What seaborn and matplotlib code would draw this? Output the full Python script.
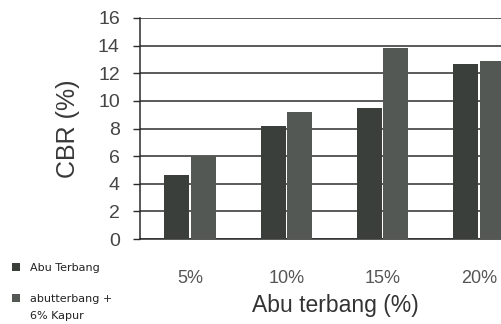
import matplotlib
matplotlib.use("Agg")
import matplotlib.pyplot as plt
import seaborn as sns
import pandas as pd

# CBR values for each fly-ash content
categories = ["5%", "10%", "15%", "20%"]
abu_terbang = [4.6, 8.2, 9.5, 12.7]
abu_kapur = [6.0, 9.2, 13.8, 12.9]
series_names = ["Abu Terbang", "abutterbang +"]
series2_note = "6% Kapur"
y_ticks = [0, 2, 4, 6, 8, 10, 12, 14, 16]

df = pd.DataFrame({
    "kadar": categories * 2,
    "cbr": abu_terbang + abu_kapur,
    "seri": [series_names[0]] * len(categories) + [series_names[1]] * len(categories),
})

sns.set_theme(style="white")
plt.rcParams["font.family"] = ["Liberation Sans", "DejaVu Sans"]

fig = plt.figure(figsize=(5.01, 3.24), dpi=100)
ax = fig.add_axes([140 / 501, 1 - 239 / 324, 1 - 140 / 501, (239 - 18) / 324])

sns.barplot(
    data=df, x="kadar", y="cbr", hue="seri", order=categories,
    hue_order=series_names, palette=["#3a403c", "#535954"],
    width=0.55, gap=0.05, edgecolor="none", ax=ax, zorder=3,
)

ax.set_ylim(0, 16)
ax.set_yticks(y_ticks)
ax.set_xlim(-0.52, 3.23)
ax.yaxis.grid(True, color="#2e2e2e", linewidth=1.1, zorder=0)
ax.set_axisbelow(True)

for side in ["top", "right"]:
    ax.spines[side].set_visible(False)
ax.spines["left"].set_color("#2a2a2a")
ax.spines["left"].set_linewidth(1.1)
ax.spines["bottom"].set_color("#2a2a2a")
ax.spines["bottom"].set_linewidth(1.1)

ax.tick_params(axis="y", which="major", left=True, length=5, width=1.0,
               color="#2a2a2a", labelsize=14, labelcolor="#454545", pad=9.5)
ax.tick_params(axis="x", length=0, labelsize=13, labelcolor="#555555", pad=22)

ax.set_ylabel("CBR (%)", fontsize=18, color="#383838", labelpad=13)
ax.set_xlabel("Abu terbang (%)", fontsize=16.5, color="#333333")
ax.xaxis.set_label_coords(0.54, -0.25)

handles, labels = ax.get_legend_handles_labels()
ax.get_legend().remove()
leg = fig.legend(
    handles, labels, loc="upper left", bbox_to_anchor=(0.004, 1 - 253 / 324),
    frameon=False, handlelength=0.7, handleheight=0.7,
    handletextpad=0.9, labelspacing=1.85,
    prop={"family": "DejaVu Sans", "size": 8},
)
for t in leg.get_texts():
    t.set_color("#222222")
fig.text(30 / 501, 1 - 316 / 324, series2_note, family="DejaVu Sans",
         fontsize=8, color="#222222", va="center", ha="left")

fig.savefig("out.png", dpi=100)
